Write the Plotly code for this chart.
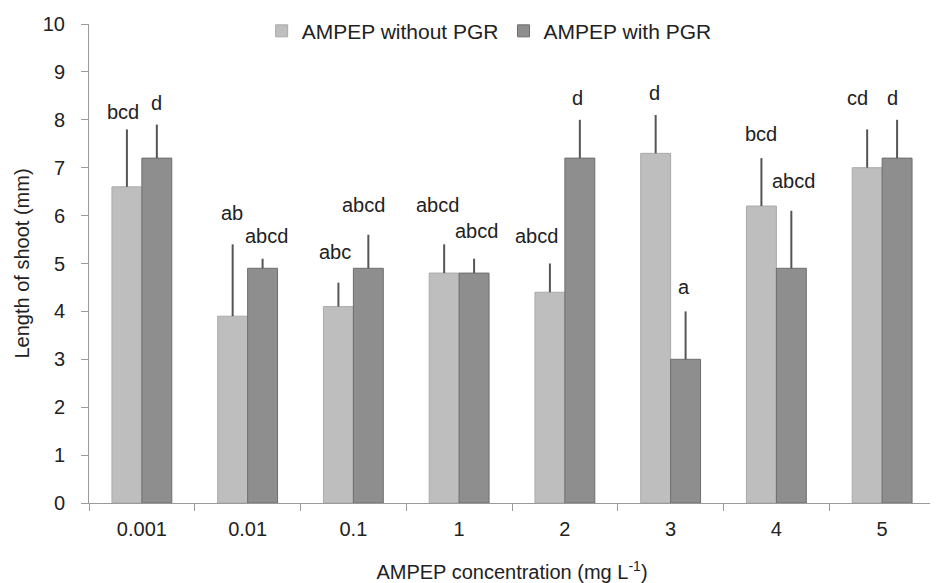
import plotly.graph_objects as go

categories = ["0.001", "0.01", "0.1", "1", "2", "3", "4", "5"]
without_pgr = [6.6, 3.9, 4.1, 4.8, 4.4, 7.3, 6.2, 7.0]
without_pgr_err = [1.2, 1.5, 0.5, 0.6, 0.6, 0.8, 1.0, 0.8]
with_pgr = [7.2, 4.9, 4.9, 4.8, 7.2, 3.0, 4.9, 7.2]
with_pgr_err = [0.7, 0.2, 0.7, 0.3, 0.8, 1.0, 1.2, 0.8]

without_letters = ["bcd", "ab", "abc", "abcd", "abcd", "d", "bcd", "cd"]
with_letters = ["d", "abcd", "abcd", "abcd", "d", "a", "abcd", "d"]
# label heights (data units) and small horizontal pixel nudges
without_label_y = [8.17, 6.06, 5.25, 6.22, 5.58, 8.57, 7.70, 8.46]
with_label_y = [8.36, 5.58, 6.22, 5.68, 8.46, 4.50, 6.72, 8.46]
without_label_dx = [-4, -1, -3, -7, -13, -1, 0, -10]
with_label_dx = [0, 4, -5, 2, -2, -2, 2, -5]

FONT = "Liberation Sans, Arial, sans-serif"
LIGHT = "#bebebe"
DARK = "#8e8e8e"
BARGAP = 0.434

fig = go.Figure()
fig.add_trace(go.Bar(
    x=categories, y=without_pgr, name="AMPEP without PGR",
    marker=dict(color=LIGHT, line=dict(color="#aaaaaa", width=1)),
    error_y=dict(type="data", symmetric=False, array=without_pgr_err,
                 arrayminus=[0] * len(without_pgr_err), width=0,
                 thickness=2, color="#555555"),
))
fig.add_trace(go.Bar(
    x=categories, y=with_pgr, name="AMPEP with PGR",
    marker=dict(color=DARK, line=dict(color="#6e6e6e", width=1)),
    error_y=dict(type="data", symmetric=False, array=with_pgr_err,
                 arrayminus=[0] * len(with_pgr_err), width=0,
                 thickness=2, color="#555555"),
))

off = (1 - BARGAP) / 4
annotations = []
for i in range(len(categories)):
    annotations.append(dict(x=i - off, y=without_label_y[i], text=without_letters[i],
                            xref="x", yref="y", showarrow=False, xshift=without_label_dx[i],
                            font=dict(family=FONT, size=20, color="#222222")))
    annotations.append(dict(x=i + off, y=with_label_y[i], text=with_letters[i],
                            xref="x", yref="y", showarrow=False, xshift=with_label_dx[i],
                            font=dict(family=FONT, size=20, color="#222222")))

fig.update_layout(
    width=930, height=575,
    margin=dict(l=81, r=3, t=11, b=80),
    paper_bgcolor="white", plot_bgcolor="white",
    barmode="group", bargap=BARGAP, bargroupgap=0,
    font=dict(family=FONT, size=20, color="#222222"),
    showlegend=True,
    legend=dict(orientation="h", x=0.473, xanchor="center", y=0.985, yanchor="middle",
                font=dict(family=FONT, size=21, color="#222222"),
                bgcolor="rgba(0,0,0,0)", itemwidth=30),
    annotations=annotations,
    xaxis=dict(
        type="category", showline=True, linecolor="#9a9a9a", linewidth=1,
        ticks="outside", tickson="boundaries", ticklen=7, tickcolor="#9a9a9a",
        showgrid=False, tickfont=dict(size=20), ticklabelstandoff=8,
        automargin=False,
        title=dict(text="AMPEP concentration (mg L<sup>-1</sup>)", standoff=26,
                   font=dict(size=20)),
    ),
    yaxis=dict(
        range=[0, 10], dtick=1, showline=True, linecolor="#9a9a9a", linewidth=1,
        ticks="outside", ticklen=7, tickcolor="#9a9a9a", showgrid=False,
        zeroline=False, tickfont=dict(size=20), ticklabelstandoff=12,
        automargin=False,
        title=dict(text="Length of shoot (mm)", standoff=7, font=dict(size=20)),
    ),
)

fig.write_html("out.html")
